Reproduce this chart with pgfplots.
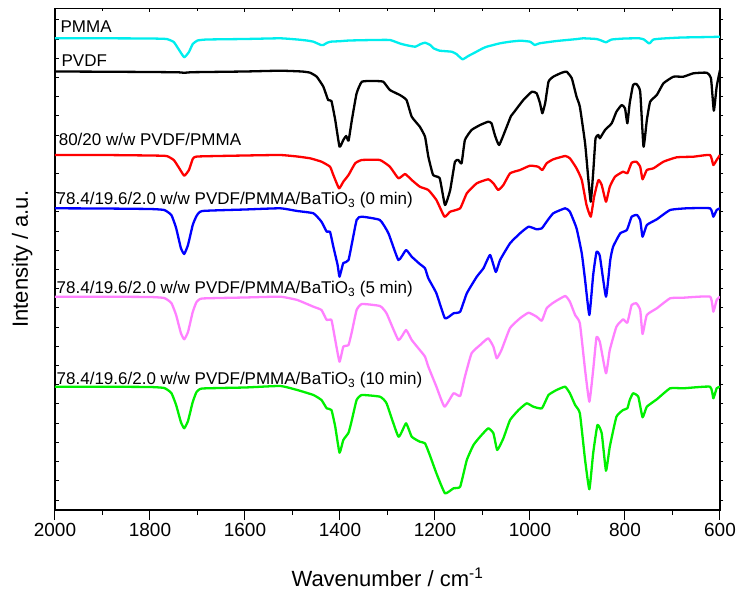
\documentclass[border=0pt]{standalone}
\usepackage{fontspec}
\setmainfont{Liberation Sans}
\usepackage{pgfplots}
\pgfplotsset{compat=1.18}
\definecolor{cPMMA}{RGB}{0,238,238}
\definecolor{cRed}{RGB}{255,0,0}
\definecolor{cBlue}{RGB}{0,0,255}
\definecolor{cPink}{RGB}{255,128,255}
\definecolor{cGreen}{RGB}{0,240,0}
\pgfplotsset{
  base/.style={
    at={(0,0)}, anchor=south west,
    width=665pt, height=501.7pt, scale only axis,
    xmin=600, xmax=2000, x dir=reverse,
    ymin=8.3, ymax=510, y dir=reverse,
    axis line style={line width=1.1pt},
    every tick/.style={black,line width=1pt},
  },
  spec/.style={line width=2.3pt, line join=round, mark=none, smooth, tension=0.25},
}
\begin{document}
\begin{tikzpicture}
% frame + top/left ticks (inward)
\begin{axis}[base,
  tick align=inside,
  xtick pos=right, ytick pos=left,
  xtick={600,800,...,2000}, minor xtick={700,900,...,1900},
  ytick={20,39.2,...,500},
  xticklabels={}, yticklabels={},
  major tick length=4pt, minor tick length=2.5pt]
\end{axis}
% right ticks (outward)
\begin{axis}[base,
  tick align=outside,
  xtick=\empty, ytick pos=right,
  ytick={20,39.2,...,500}, yticklabels={},
  major tick length=3.5pt]
\end{axis}
% data axis, bottom ticks outward
\begin{axis}[base,
  tick align=outside,
  xtick pos=left, ytick=\empty,
  xtick={600,800,...,2000}, minor xtick={700,900,...,1900},
  major tick length=10pt, minor tick length=5pt,
  /pgf/number format/assume math mode=true,
  /pgf/number format/1000 sep={},
  xticklabel style={font=\fontsize{19}{22}\selectfont},
  xlabel={Wavenumber / cm\textsuperscript{-1}},
  ylabel={Intensity / a.u.},
  xlabel style={font=\fontsize{22}{26}\selectfont, at={(axis description cs:0.5,-0.1515)}, anchor=base},
  ylabel style={font=\fontsize{22}{26}\selectfont, at={(axis description cs:-0.0406,0.5)}, anchor=base, rotate=0},
]
% PMMA
\addplot[spec, color=cPMMA] table {
2000 38.3
1900 38.3
1800 38.5
1765 39
1750 42
1740 49
1728 57.3
1718 52
1710 44
1700 40.5
1680 39.5
1600 39
1526 38.3
1490 39.5
1470 40.5
1456 41.7
1440 45
1435 45
1428 43
1420 41.7
1400 41.2
1380 40.5
1330 40
1295 40
1275 43.3
1262 45
1242 46.7
1230 44
1221 42.7
1210 45
1203 48.3
1190 50.7
1165 51.7
1155 54
1142 59.3
1130 56
1119 53.3
1100 48.5
1091 46.7
1063 43.3
1042 41.7
1020 40.7
1000 41.7
990 45
980 43.3
960 42
944 41
900 39
888 38.3
860 39
850 40.5
840 42.3
828 39.5
800 38.5
770 38.3
760 39.5
749 43.5
740 39.5
720 38.5
680 37.5
620 37
600 36.7
};
% PVDF
\addplot[spec, color=black] table {
2000 71.5
1900 71.7
1800 72
1740 72.3
1728 72.8
1710 72.2
1600 71.5
1526 70.7
1480 71.5
1463 72.7
1449 76.7
1435 86.7
1425 100
1418 101
1410 120
1401 146.7
1393 140
1387 136
1382 140.7
1375 120
1365 93.3
1354 81.7
1330 81
1309 81.7
1295 90
1274 95
1260 100
1249 116.7
1232 126.7
1221 136.7
1214 156.7
1204 175
1190 178.3
1179 205
1168 190
1158 161.7
1151 160
1144 163.3
1137 140
1123 130
1105 125
1088 121.7
1081 123.3
1074 135
1065 145
1050 128
1040 116
1035 113
1014 100
996 91.7
986 93.3
979 103
974 113.3
968 103
961 81.7
951 76.7
933 72.7
923 71.7
912 78.3
902 96.7
895 106.7
884 143.3
877 180
872 201.7
867 173
862 138.3
856 135
853 138.3
842 130
828 123.3
818 111.7
807 105
800 108.3
795 123.3
790 103
783 85
776 84
768 91.7
761 146.7
754 120
747 101.7
733 95
719 83.3
698 76.7
677 76.7
656 73.3
628 72.7
619 78
613 110.7
607 86.7
600 70
};
% 80/20 PVDF/PMMA
\addplot[spec, color=cRed] table {
2000 155
1900 155
1800 155.5
1765 156
1750 160
1740 167
1728 175.7
1718 170
1710 159
1700 156.5
1600 155.5
1526 155
1490 156.5
1463 158.3
1439 161.7
1421 166.7
1414 175
1402 188.3
1393 181.7
1382 175
1368 163.3
1354 160
1316 160
1295 166.7
1277 178.3
1263 174
1249 180
1232 186.7
1214 190
1197 200
1180 216.7
1168 211.7
1147 208.3
1133 193.3
1112 183.3
1088 179.3
1077 183.3
1067 190
1056 185
1042 173.3
1021 170
1000 165.7
983 166.7
974 170
965 163.3
951 159.3
926 156
916 158.3
902 168.3
891 180
881 205
872 216.7
865 196.7
856 180
849 185
840 201.7
832 186.7
821 176.7
804 171.7
795 173.3
786 162.7
776 161.7
768 166.7
763 179.3
754 170
740 168.3
719 161.7
691 157.3
656 156.7
621 155
614 165
607 160
600 155
};
% 0 min
\addplot[spec, color=cBlue] table {
2000 208.3
1900 208.5
1800 209
1770 210
1755 215
1745 228
1735 248
1728 254
1720 245
1710 225
1702 216
1690 211
1600 209.5
1526 208.3
1490 211
1456 213.3
1439 221.7
1428 231.7
1421 231.7
1414 246.7
1405 265
1401 276.7
1393 263
1382 260
1365 220
1354 216.7
1316 220
1298 233.3
1277 260
1261 250
1249 256.7
1232 264
1221 268.3
1214 278.3
1197 293.3
1179 318.3
1161 313.3
1147 311.7
1133 293.3
1112 276.7
1098 268.3
1084 255
1072 272
1063 260
1042 243.3
1021 233.3
1003 226.7
986 229.3
975 228.3
965 221.7
951 213.3
926 208.3
916 211.7
902 228.3
891 253.3
884 280
875 315
867 275
860 252
853 256
840 296.7
831 260
825 246.7
810 233.3
796 230
786 216.7
775 215
768 220
763 236.7
754 225
733 219.3
705 210
670 208.3
621 208.3
614 216.7
607 210
600 208.3
};
% 5 min
\addplot[spec, color=cPink] table {
2000 296.7
1900 296.7
1800 297
1770 298
1755 303
1745 315
1735 333
1728 339.3
1720 332
1710 312
1702 302
1690 298.5
1600 297.5
1526 296.7
1490 300
1456 306.7
1439 310
1428 320
1418 320
1410 340
1401 361.7
1393 346.7
1382 345
1375 331.7
1365 310
1354 304
1316 306
1302 313.3
1277 340
1261 330
1249 340
1232 350
1221 356.7
1214 366.7
1197 386.7
1180 406.7
1161 393.3
1147 396
1137 376.7
1123 353.3
1105 345
1088 338.3
1077 346.7
1070 358.3
1060 350
1042 328
1021 318.3
1003 312.7
986 316.7
975 320.7
965 308.3
951 302.7
926 296
916 301.7
905 315
895 323.3
884 370
875 401.7
867 370
860 337.3
853 341.7
840 373.3
832 350
818 326.7
804 319.3
795 322.7
786 305
776 303.3
768 310
763 334
754 315
733 308.3
705 298.3
677 297.7
621 296.7
614 311.7
607 300
600 296.7
};
% 10 min
\addplot[spec, color=cGreen] table {
2000 386.7
1900 386.7
1800 387
1770 388
1755 393
1745 405
1735 422
1728 428.3
1720 421
1710 402
1702 392
1690 388.5
1600 387.5
1526 386
1490 390
1456 395
1439 400
1428 408.3
1418 410
1410 426.7
1401 452.7
1393 440
1382 432.7
1375 420
1365 400
1354 395
1316 396.7
1302 403.3
1277 436.7
1261 423.3
1249 436.7
1232 441.7
1221 443.3
1211 455
1197 473.3
1179 493.3
1161 488.3
1147 486.7
1133 460
1119 445
1105 436.7
1088 428.3
1077 433.3
1069 450
1056 438.3
1042 420
1024 410
1007 403.3
993 406.7
975 408.3
961 395
944 390
926 386.7
916 393.3
905 405
895 413.3
884 460
875 489.3
867 453.3
858 425
849 433.3
840 470.7
832 446.7
818 416.7
804 410
795 408.3
790 400
783 393.3
772 396.7
763 417.3
754 406.7
733 399.3
705 388.3
677 388.3
621 386.7
614 398.3
607 388.3
600 386.7
};
\begin{scope}[every node/.style={anchor=base west, inner sep=0pt, font=\fontsize{17}{20}\selectfont}]
\node at (axis cs:1988.6,32.5) {PMMA};
\node at (axis cs:1986.5,66.7) {PVDF};
\node at (axis cs:1992.4,146) {80/20 w/w PVDF/PMMA};
\node at (axis cs:1996.8,205) {78.4/19.6/2.0 w/w PVDF/PMMA/BaTiO\textsubscript{3} (0 min)};
\node at (axis cs:1996.8,293.5) {78.4/19.6/2.0 w/w PVDF/PMMA/BaTiO\textsubscript{3} (5 min)};
\node at (axis cs:1996.8,384.5) {78.4/19.6/2.0 w/w PVDF/PMMA/BaTiO\textsubscript{3} (10 min)};
\end{scope}
\end{axis}
\pgfresetboundingbox
\path[use as bounding box] (-55pt,-86pt) rectangle (685pt,510pt);
\end{tikzpicture}
\end{document}
